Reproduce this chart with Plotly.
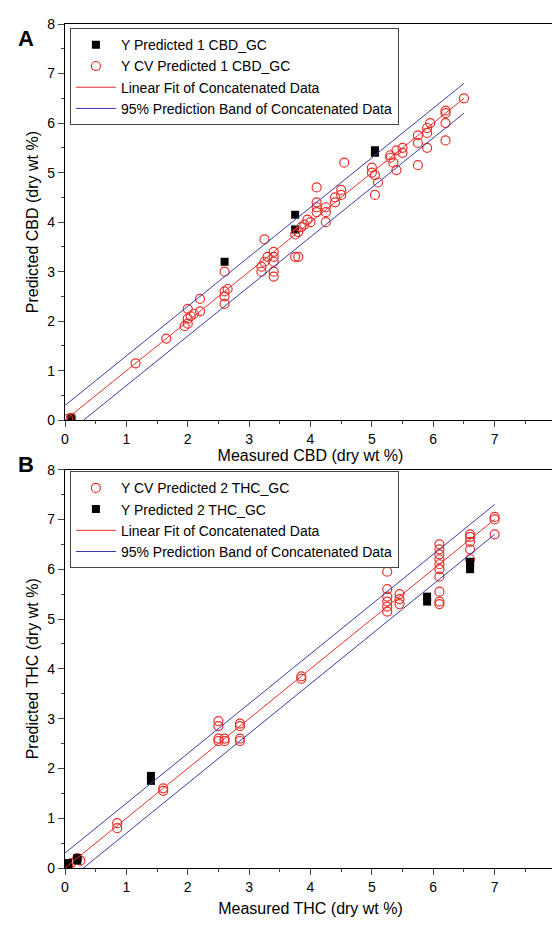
import numpy as np
import plotly.graph_objects as go

# Panel A: CBD
cbd_cv_x = [0.05, 0.1, 1.15, 1.65, 1.95, 2.0, 2.0, 2.05, 2.0, 2.1, 2.2, 2.2, 2.6, 2.6, 2.65, 2.6, 2.6,
            3.2, 3.2, 3.25, 3.3, 3.25, 3.4, 3.4, 3.4, 3.4, 3.4, 3.75, 3.8, 3.75, 3.8, 3.85, 3.9, 3.95,
            4.0, 4.1, 4.1, 4.1, 4.1, 4.25, 4.25, 4.25, 4.4, 4.4, 4.5, 4.5, 4.55, 5.0, 5.0, 5.05, 5.05,
            5.1, 5.3, 5.3, 5.35, 5.4, 5.4, 5.5, 5.5, 5.75, 5.75, 5.75, 5.9, 5.9, 5.9, 5.95, 6.2, 6.2,
            6.2, 6.2, 6.5]
cbd_cv_y = [0.03, 0.05, 1.15, 1.65, 1.9, 1.95, 2.05, 2.1, 2.25, 2.15, 2.45, 2.2, 2.5, 2.6, 2.65, 2.35, 3.0,
            3.0, 3.1, 3.2, 3.3, 3.65, 3.3, 3.4, 3.2, 3.0, 2.9, 3.75, 3.8, 3.3, 3.3, 3.9, 3.95, 4.05,
            4.0, 4.4, 4.2, 4.3, 4.7, 4.2, 4.0, 4.3, 4.5, 4.4, 4.55, 4.65, 5.2, 5.0, 5.1, 4.95, 4.55,
            4.8, 5.3, 5.35, 5.2, 5.45, 5.05, 5.5, 5.4, 5.75, 5.6, 5.15, 5.9, 5.8, 5.5, 6.0, 6.2, 6.25,
            6.0, 5.65, 6.5]
cbd_pred_x = [0.1, 2.6, 3.75, 3.75, 5.05, 5.05]
cbd_pred_y = [0.05, 3.2, 4.15, 3.85, 5.45, 5.4]

# Panel B: THC
thc_cv_x = [0.05, 0.1, 0.2, 0.25, 0.85, 0.85, 1.6, 1.6, 2.5, 2.5, 2.5, 2.5, 2.6, 2.6, 2.85, 2.85, 2.85,
            2.85, 3.85, 3.85, 5.25, 5.25, 5.25, 5.25, 5.25, 5.25, 5.45, 5.45, 5.45, 6.1, 6.1, 6.1, 6.1,
            6.1, 6.1, 6.1, 6.1, 6.1, 6.1, 6.6, 6.6, 6.6, 6.6, 6.6, 7.0, 7.0, 7.0]
thc_cv_y = [0.05, 0.1, 0.2, 0.15, 0.8, 0.9, 1.55, 1.6, 2.55, 2.6, 2.85, 2.95, 2.6, 2.55, 2.85, 2.9, 2.6,
            2.55, 3.8, 3.85, 5.25, 5.35, 5.45, 5.15, 5.6, 5.95, 5.3, 5.4, 5.5, 6.0, 6.1, 6.2, 6.3,
            6.4, 6.5, 5.85, 5.55, 5.35, 5.3, 6.2, 6.4, 6.55, 6.7, 6.65, 7.0, 7.05, 6.7]
thc_pred_x = [0.05, 0.05, 0.2, 0.2, 1.4, 1.4, 5.9, 5.9, 6.6, 6.6, 6.6]
thc_pred_y = [0.05, 0.1, 0.2, 0.15, 1.75, 1.85, 5.35, 5.45, 6.0, 6.1, 6.15]

# fit lines and band half-width
CBD_FIT = (1.0, 0.0)
THC_FIT = (1.0, 0.0)
BAND = 0.3

RED = "#e8302a"
BLUE = "#3a3aa8"

fig = go.Figure()


def add_fit(fit, xa, ya, leg, x_end):
    k, b = fit
    x0 = np.array([0.0, x_end])
    fig.add_trace(go.Scatter(x=x0, y=k * x0 + b, mode="lines", line=dict(color=RED, width=1),
                             name="Linear Fit of Concatenated Data", xaxis=xa, yaxis=ya, legend=leg))
    xb = np.array([-0.2, x_end])
    fig.add_trace(go.Scatter(x=xb, y=k * xb + b + BAND, mode="lines", line=dict(color=BLUE, width=1),
                             name="95% Prediction Band of Concatenated Data", xaxis=xa, yaxis=ya, legend=leg))
    fig.add_trace(go.Scatter(x=xb, y=k * xb + b - BAND, mode="lines", line=dict(color=BLUE, width=1),
                             showlegend=False, xaxis=xa, yaxis=ya, legend=leg))


sq = dict(symbol="square", color="black", size=8)
circ = dict(symbol="circle-open", color=RED, size=9, line=dict(width=1.2))

# top panel
fig.add_trace(go.Scatter(x=cbd_pred_x, y=cbd_pred_y, mode="markers", marker=sq,
                         name="Y Predicted 1 CBD_GC", xaxis="x", yaxis="y", legend="legend"))
fig.add_trace(go.Scatter(x=cbd_cv_x, y=cbd_cv_y, mode="markers", marker=circ,
                         name="Y CV Predicted 1 CBD_GC", xaxis="x", yaxis="y", legend="legend"))
add_fit(CBD_FIT, "x", "y", "legend", 6.5)

# bottom panel
fig.add_trace(go.Scatter(x=thc_cv_x, y=thc_cv_y, mode="markers", marker=circ,
                         name="Y CV Predicted 2 THC_GC", xaxis="x2", yaxis="y2", legend="legend2"))
fig.add_trace(go.Scatter(x=thc_pred_x, y=thc_pred_y, mode="markers", marker=sq,
                         name="Y Predicted 2 THC_GC", xaxis="x2", yaxis="y2", legend="legend2"))
add_fit(THC_FIT, "x2", "y2", "legend2", 7.0)

ax = dict(range=[0, 8], dtick=1, ticks="outside", ticklen=6, showline=True, linecolor="black",
          linewidth=1.2, mirror=True, showgrid=False, zeroline=False,
          minor=dict(ticks="outside", ticklen=3, dtick=0.5),
          tickfont=dict(size=14, color="black"), title_font=dict(size=16, color="black"))

leg = dict(x=0.01, y=0.995, xanchor="left", yanchor="top", bgcolor="white", bordercolor="#444",
           borderwidth=1, font=dict(size=14, color="black"), tracegroupgap=0, itemwidth=40)

fig.update_layout(
    width=560, height=929, paper_bgcolor="white", plot_bgcolor="white",
    font=dict(family="Arial, Liberation Sans, sans-serif", color="black"),
    margin=dict(l=57, r=10, t=8, b=69),
    xaxis=dict(ax, domain=[0, 1], anchor="y", title=dict(text="Measured CBD (dry wt %)", standoff=2)),
    yaxis=dict(ax, domain=[0.5305, 1], anchor="x", title=dict(text="Predicted CBD (dry wt %)", standoff=4)),
    xaxis2=dict(ax, domain=[0, 1], anchor="y2", title=dict(text="Measured THC (dry wt %)", standoff=8)),
    yaxis2=dict(ax, domain=[0, 0.472], anchor="x2", title=dict(text="Predicted THC (dry wt %)", standoff=4)),
    legend=dict(leg, y=0.995),
    legend2=dict(leg, y=0.47),
    annotations=[
        dict(text="<b>A</b>", x=-0.1, y=1.0, xref="paper", yref="paper", showarrow=False,
             font=dict(size=22), xanchor="left", yanchor="top"),
        dict(text="<b>B</b>", x=-0.1, y=0.495, xref="paper", yref="paper", showarrow=False,
             font=dict(size=22), xanchor="left", yanchor="top"),
    ],
)

fig.write_html("out.html")
